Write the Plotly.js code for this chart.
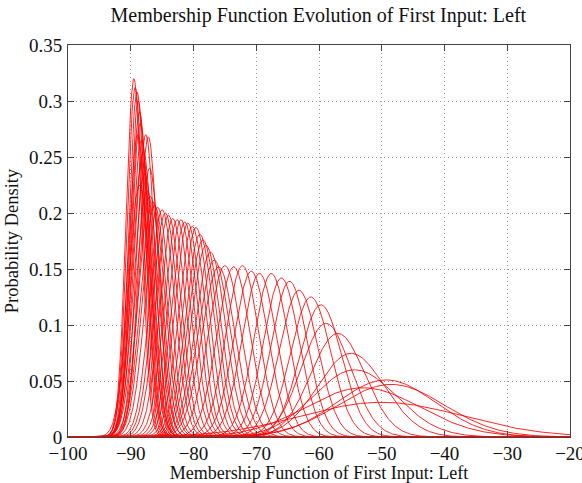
<!DOCTYPE html>
<html>
<head>
<meta charset="utf-8">
<script src="https://cdn.plot.ly/plotly-3.0.1.min.js"></script>
<style>html,body{margin:0;padding:0;background:#fff;}#chart{width:582px;height:483px;}</style>
</head>
<body>
<div id="chart"></div>
<script>
// Each membership function: mean (x of peak) and peak density
const means = [-89.5,-89.3,-89.0,-88.8,-88.6,-88.5,-88.9,-88.3,-87.6,-87.2,-88.0,-88.2,-87.8,-88.6,-87.4,-86.9,-87.0,-86.5,
  -86.2,-85.7,-85.0,-84.5,-84.0,-83.3,-82.6,-82.0,-81.4,-80.9,-80.2,-79.6,-79.0,-78.5,-78.0,-77.3,-76.7,-76.0,
  -75.0,-73.6,-72.2,-70.8,-69.5,-67.6,-66.0,-64.7,-63.2,-61.3,-59.7,-58.9,-57.0,-54.9,-54.3,-53.0,-49.3,-48.5,-50.0];
const peaks = [0.320,0.312,0.308,0.300,0.290,0.280,0.270,0.265,0.270,0.268,0.255,0.245,0.235,0.225,0.220,0.215,0.240,0.210,
  0.207,0.205,0.203,0.200,0.198,0.195,0.194,0.194,0.192,0.191,0.188,0.187,0.181,0.176,0.171,0.165,0.158,0.152,
  0.153,0.152,0.153,0.148,0.146,0.146,0.142,0.139,0.131,0.125,0.118,0.1015,0.0925,0.0747,0.060,0.044,0.051,0.047,0.031];
const xTicks = [-100,-90,-80,-70,-60,-50,-40,-30,-20];
const yTicks = [0,0.05,0.1,0.15,0.2,0.25,0.3,0.35];

const xs = [];
for (let v = -100; v <= -20.0001; v += 0.1) xs.push(+v.toFixed(2));
xs.push(-20);

const traces = means.map((m, i) => {
  const p = peaks[i];
  const s = 1 / (p * Math.sqrt(2 * Math.PI));
  return {
    type: 'scatter', mode: 'lines', x: xs,
    y: xs.map(x => p * Math.exp(-0.5 * ((x - m) / s) ** 2)),
    line: {color: 'rgb(255,0,0)', width: 1},
    opacity: 0.85, hoverinfo: 'skip', showlegend: false
  };
});

const font = 'Liberation Serif, Times New Roman, serif';
const axisCommon = {
  showline: true, linecolor: '#444', linewidth: 1, mirror: 'ticks',
  ticks: 'inside', ticklen: 6, tickcolor: '#444',
  showgrid: true, gridcolor: '#999', griddash: '1px,3px', gridwidth: 1,
  zeroline: false, tickfont: {family: font, size: 19, color: '#111'},
  ticklabeloverflow: 'allow', automargin: false
};
const layout = {
  width: 582, height: 483,
  margin: {l: 68, r: 12, t: 45, b: 46},
  paper_bgcolor: '#fff', plot_bgcolor: '#fff',
  title: {text: 'Membership Function Evolution of First Input: Left', font: {family: font, size: 20, color: '#111'}, x: 0.547, xanchor: 'center', y: 0.968, yanchor: 'middle'},
  xaxis: Object.assign({}, axisCommon, {range: [-100, -20], tickvals: xTicks, ticktext: xTicks.map(v => (v < 0 ? '\u2212' + Math.abs(v) : '' + v)),
    ticklabelstandoff: -1,
    title: {text: 'Membership Function of First Input: Left', font: {family: font, size: 18, color: '#111'}, standoff: 0}}),
  yaxis: Object.assign({}, axisCommon, {range: [0, 0.35], tickvals: yTicks, ticktext: yTicks.map(v => '' + v),
    ticklabelstandoff: 1,
    title: {text: 'Probability Density', font: {family: font, size: 18.5, color: '#111'}, standoff: 5}})
};
Plotly.newPlot('chart', traces, layout, {staticPlot: true, displayModeBar: false});
</script>
</body>
</html>
